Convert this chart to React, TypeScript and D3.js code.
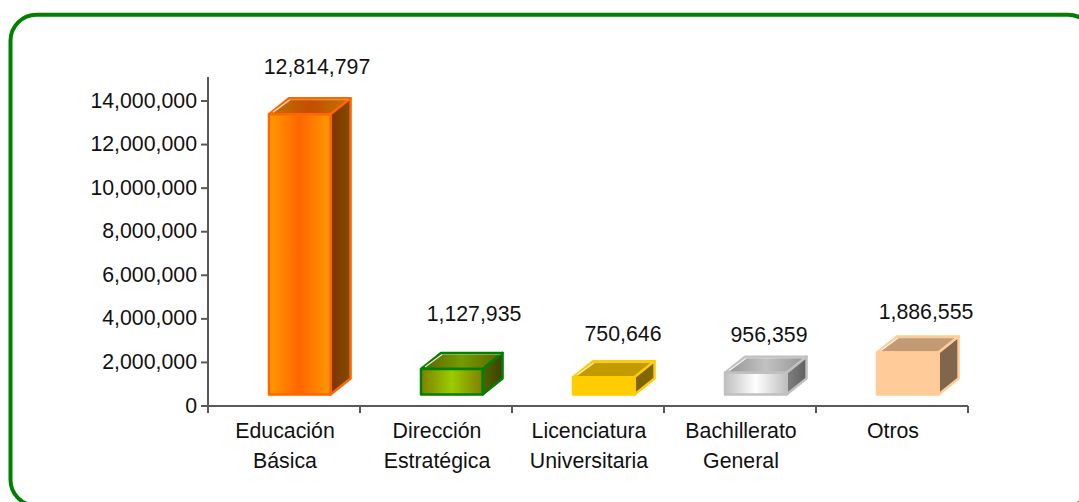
import React from "react";
import * as d3 from "d3";

const categories = [["Educación", "Básica"], ["Dirección", "Estratégica"], ["Licenciatura", "Universitaria"], ["Bachillerato", "General"], ["Otros"]];
const values = [12814797, 1127935, 750646, 956359, 1886555];
const yTicks = [0, 2000000, 4000000, 6000000, 8000000, 10000000, 12000000, 14000000];
const edges = ["#ff6600", "#008000", "#ffcc00", "#c0c0c0", "#ffcc99"];
const faces = [["#ff9900", "#ff6600", "#ff9900"], ["#808000", "#99cc00", "#808000"], ["#ffcc00", "#ffcc00", "#ffcc00"], ["#c0c0c0", "#ffffff", "#c0c0c0"], ["#ffcc99", "#ffcc99", "#ffcc99"]];
const labelDx = [33, 38, 35, 29, 34];
const labelDy = [-40, -48, -36, -31, -33];

const W = 1079, H = 502;
const font = "'Liberation Sans', Arial, sans-serif";
const fs = 21.3;
const axisColor = "#595959";
const x = d3.scaleBand<number>().domain(d3.range(5)).range([208, 968]);
const y = d3.scaleLinear().domain([0, 14000000]).range([406, 101]);
const fmt = d3.format(",");
const depthX = 20, depthY = 16, lift = 11.5;

function shade(c: string, k: number) {
  const r = d3.rgb(c);
  return d3.rgb(r.r * k, r.g * k, r.b * k).formatHex();
}

export default function App() {
  const bw = x.bandwidth() * 0.405;
  return (
    <svg width={W} height={H} style={{ position: "absolute", left: 0, top: 0, background: "#fff" }} fontFamily={font} fontSize={fs}>
      <defs>
        {faces.map((f, i) => (
          <linearGradient key={i} id={`face${i}`} x1="0" x2="1" y1="0" y2="0">
            <stop offset="0" stopColor={f[0]} />
            <stop offset="0.5" stopColor={f[1]} />
            <stop offset="1" stopColor={f[2]} />
          </linearGradient>
        ))}
        {faces.map((f, i) => (
          <linearGradient key={i} id={`top${i}`} x1="0" x2="1" y1="0" y2="0">
            <stop offset="0" stopColor={shade(f[0], 0.76)} />
            <stop offset="0.5" stopColor={shade(f[1], 0.76)} />
            <stop offset="1" stopColor={shade(f[2], 0.76)} />
          </linearGradient>
        ))}
        {faces.map((f, i) => (
          <linearGradient key={i} id={`side${i}`} x1="0" x2="1" y1="0" y2="0">
            <stop offset="0" stopColor={shade(f[1], 0.5)} />
            <stop offset="1" stopColor={shade(f[0], 0.5)} />
          </linearGradient>
        ))}
      </defs>
      <rect x={10.5} y={14.7} width={1083.5} height={491} rx={26} fill="#fff" stroke="#008000" strokeWidth={4} />

      <g stroke={axisColor} strokeWidth={2} fill="none">
        <line x1={208} x2={208} y1={77} y2={412} />
        <line x1={201} x2={968} y1={406} y2={406} />
        {yTicks.map((t) => <line key={t} x1={201} x2={208} y1={y(t)} y2={y(t)} />)}
        {d3.range(6).map((i) => {
          const px = 208 + x.step() * i;
          return <line key={i} x1={px} x2={px} y1={406} y2={413} />;
        })}
      </g>
      {yTicks.map((t) => (
        <text key={t} x={197} y={y(t) + 6.5} textAnchor="end" fill="#111">{fmt(t)}</text>
      ))}

      {values.map((v, i) => {
        const x0 = x(i)! + 61;
        const x1 = x0 + bw;
        const bottom = y(0) - lift;
        const top = y(v) - lift - 1;
        const e = edges[i];
        return (
          <g key={i} strokeLinejoin="round">
            <path d={`M${x0},${top}L${x0 + depthX},${top - depthY}L${x1 + depthX},${top - depthY}L${x1},${top}Z`} fill={`url(#top${i})`} stroke={e} strokeWidth={2.5} />
            <path d={`M${x1},${top}L${x1 + depthX},${top - depthY}L${x1 + depthX},${bottom - depthY}L${x1},${bottom}Z`} fill={`url(#side${i})`} stroke={e} strokeWidth={2.5} />
            <rect x={x0} y={top} width={bw} height={bottom - top} fill={`url(#face${i})`} stroke={e} strokeWidth={2.5} />
            <line x1={x0 + 4} y1={top - 2} x2={x0 + depthX + 1} y2={top - depthY + 1.5} stroke="#fff" strokeWidth={1.2} opacity={0.85} />
            <line x1={x0 + depthX + 1} y1={top - depthY + 1.5} x2={x1 + depthX - 2} y2={top - depthY + 1.5} stroke="#fff" strokeWidth={0.8} opacity={0.45} />
          </g>
        );
      })}

      {values.map((v, i) => (
        <text key={i} x={x(i)! + x.bandwidth() / 2 + labelDx[i]} y={y(v) - lift - 1 + labelDy[i]} textAnchor="middle" fill="#111">{fmt(v)}</text>
      ))}

      {categories.map((c, i) => (
        <text key={i} textAnchor="middle" fill="#111">
          {c.map((l, j) => (
            <tspan key={j} x={x(i)! + x.bandwidth() / 2 + 1} y={438 + j * 30}>{l}</tspan>
          ))}
        </text>
      ))}
    </svg>
  );
}
